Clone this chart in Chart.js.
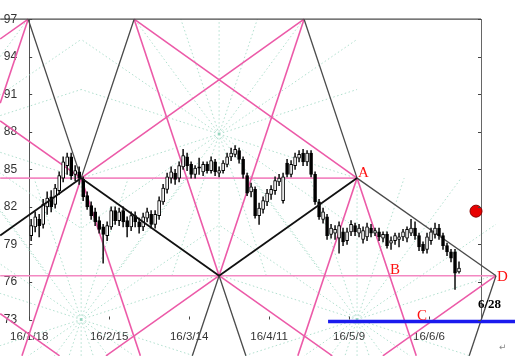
<!DOCTYPE html>
<html>
<head>
<meta charset="utf-8">
<title>Gann chart</title>
<script src="https://cdn.jsdelivr.net/npm/chart.js"></script>
<style>
    html, body { margin: 0; padding: 0; background: #fff; }
    #wrap { width: 515px; height: 356px; }
</style>
</head>
<body>
<div id="wrap"><canvas id="gann" width="515" height="356"></canvas></div>
<script>
// x = trading day counted from 16/1/18, y = price
const dateTicks  = [0, 20, 40, 60, 80, 100];
const dateLabels = ['16/1/18', '16/2/15', '16/3/14', '16/4/11', '16/5/9', '16/6/6'];
const priceTicks = [73, 76, 79, 82, 85, 88, 91, 94, 97];

const candleOpen = [
    79.7, 80.4, 81.0, 80.6, 82.0, 82.8, 82.2, 83.3, 84.3, 85.3,
    86.0, 84.6, 84.8, 84.2, 82.9, 82.1, 81.6, 80.9, 80.4, 79.7,
    80.4, 81.7, 80.9, 81.7, 80.9, 80.4, 81.3, 80.8, 80.4, 81.1,
    81.4, 80.6, 81.3, 82.4, 83.4, 84.3, 84.7, 84.3, 85.2, 86.0,
    85.4, 84.6, 85.2, 84.8, 85.4, 84.9, 85.6, 84.7, 84.9, 85.4,
    86.0, 86.2, 86.5, 85.8, 84.5, 83.2, 83.4, 81.3, 81.8, 82.4,
    83.0, 83.3, 84.0, 82.5, 85.5, 84.6, 85.3, 85.9, 86.3, 85.6,
    86.3, 84.6, 82.4, 81.0, 81.2, 79.8, 79.9, 79.5, 80.0, 79.3,
    80.0, 80.5, 79.9, 79.4, 79.6, 80.3, 79.9, 80.0, 79.5, 79.8,
    79.1, 79.3, 79.4, 79.6, 79.5, 79.9, 80.3, 79.7, 79.0, 78.6,
    79.3, 79.8, 80.3, 79.7, 78.9, 78.4, 78.4, 76.8
];
const candleHigh = [
    81.0, 81.6, 81.4, 82.6, 83.2, 83.3, 83.8, 84.8, 86.0, 86.3,
    86.3, 85.3, 85.2, 84.4, 83.2, 82.4, 81.9, 81.2, 80.6, 80.8,
    82.0, 82.0, 81.9, 82.0, 81.2, 81.6, 81.6, 81.1, 81.5, 81.9,
    81.7, 81.7, 82.8, 83.8, 84.7, 85.2, 85.0, 85.6, 86.6, 86.3,
    85.6, 85.3, 85.9, 85.6, 85.6, 86.0, 85.8, 85.2, 85.7, 86.3,
    86.7, 86.9, 86.7, 86.0, 84.7, 83.9, 83.6, 82.3, 82.8, 83.4,
    83.7, 84.4, 84.6, 84.7, 85.8, 85.7, 86.3, 86.5, 86.6, 86.5,
    86.5, 84.8, 82.6, 81.9, 81.4, 80.6, 80.5, 80.8, 80.3, 80.3,
    80.9, 80.7, 80.6, 80.4, 80.7, 80.6, 80.3, 80.3, 80.0, 80.0,
    79.6, 79.9, 79.9, 80.2, 80.4, 81.0, 80.8, 79.9, 79.2, 79.9,
    80.3, 80.7, 80.6, 79.9, 79.1, 78.6, 78.6, 77.6
];
const candleLow = [
    79.3, 80.0, 79.6, 80.3, 81.4, 81.6, 81.9, 83.0, 84.0, 84.6,
    84.2, 84.1, 83.8, 82.5, 81.8, 81.0, 80.5, 79.9, 77.5, 79.3,
    80.2, 80.6, 80.5, 80.4, 79.6, 80.1, 80.4, 79.9, 80.1, 80.8,
    80.3, 80.3, 81.0, 82.2, 83.1, 83.9, 83.8, 84.0, 85.0, 84.9,
    84.3, 84.3, 84.6, 84.5, 84.7, 84.7, 84.5, 84.4, 84.7, 85.2,
    85.7, 86.0, 85.5, 84.3, 82.9, 82.8, 81.1, 80.6, 81.5, 82.1,
    82.6, 83.0, 83.7, 82.3, 84.4, 84.4, 85.0, 85.6, 85.3, 85.3,
    84.4, 82.2, 81.0, 80.7, 79.4, 79.5, 79.4, 78.3, 78.9, 79.0,
    79.7, 79.7, 79.6, 79.1, 79.3, 79.6, 79.7, 79.3, 79.2, 78.7,
    78.6, 79.0, 78.8, 79.3, 79.2, 79.7, 79.4, 78.5, 78.3, 78.3,
    79.0, 79.5, 79.4, 78.6, 78.1, 77.6, 75.4, 76.7
];
const candleClose = [
    80.5, 81.2, 80.5, 82.2, 82.7, 82.0, 83.5, 84.5, 85.6, 86.0,
    84.5, 84.9, 84.3, 82.8, 82.0, 81.3, 80.8, 80.2, 79.8, 80.5,
    81.7, 80.9, 81.6, 80.8, 80.4, 81.3, 80.8, 80.4, 81.2, 81.6,
    80.6, 81.4, 82.5, 83.5, 84.4, 84.8, 84.2, 85.3, 86.1, 85.3,
    84.6, 85.1, 85.1, 85.4, 84.9, 85.7, 84.8, 84.9, 85.5, 86.0,
    86.3, 86.6, 85.8, 84.6, 83.1, 83.6, 81.3, 81.9, 82.5, 83.1,
    83.4, 84.1, 84.3, 84.4, 84.6, 85.4, 86.0, 86.2, 85.6, 86.3,
    84.6, 82.4, 81.2, 81.6, 79.7, 80.3, 80.2, 80.5, 79.2, 80.0,
    80.6, 80.0, 80.3, 80.1, 80.4, 79.9, 80.1, 79.6, 79.8, 78.9,
    79.3, 79.7, 79.6, 80.0, 80.2, 80.3, 79.7, 78.8, 78.5, 79.6,
    80.0, 80.3, 79.7, 78.9, 78.4, 77.9, 76.7, 77.1
];

// drawn lines as [x1, y1, x2, y2] in (day, price)
const blackLines = [
    [-7.25, 79.72, 13, 84.3],
    [13, 84.3, 47.5, 76.5],
    [47.5, 76.5, 82, 84.3]
];
const darkLines = [
    [82, 84.3, 116.75, 76.5],
    [-7.25, 97, 113, 97],
    [-0.25, 97, 13, 84.3],
    [26.25, 97, 13, 84.3],
    [68.75, 97, 82, 84.3],
    [47.5, 76.5, 40.8, 70.1],
    [47.5, 76.5, 54.2, 70.1],
    [116.75, 76.5, 110.05, 70.1]
];
const pinkLines = [
    [-0.25, 97, -7.25, 90.29],
    [-0.25, 97, -7.25, 95.42],
    [13, 84.3, -1.81, 70.1],
    [13, 84.3, 27.81, 70.1],
    [26.25, 97, 82, 84.3],
    [26.25, 97, 47.5, 76.5],
    [47.5, 76.5, 68.75, 97],
    [68.75, 97, 13, 84.3],
    [-7.25, 88.88, 13, 84.3],
    [82, 84.3, 67.19, 70.1],
    [82, 84.3, 96.81, 70.1],
    [47.5, 76.5, 75.8, 70.1],
    [47.5, 76.5, 19.2, 70.1],
    [116.75, 76.5, 88.45, 70.1],
    [-7.25, 73.46, 7.6, 70.1]
];
const levelLines = [
    [-7.25, 84.3, 82, 84.3],
    [-7.25, 76.5, 116.75, 76.5]
];
const blueLine = [74.75, 72.84, 121.5, 72.84];
const redDot = [111.75, 81.66];

// dotted fans: centre, bounding box [xmin, xmax, ymin, ymax], slopes in price per day
const fanCentres = [[13, 73], [47.5, 87.83], [82, 73], [-21.5, 87.83]];
const fanBoxes = [
    [-7.25, 47.5, 70.1, 84.3],
    [13, 82, 76.5, 97],
    [47.5, 116.75, 70.1, 84.3],
    [-21.5, 13, 76.5, 97]
];
const fanSlopes = [0.103, 0.219, 0.434, 0.959];

const marks = [
    {text: 'A', x: 82.25, y: 84.4, color: '#ff1010', font: '15px "Liberation Serif"'},
    {text: 'B', x: 90.25, y: 76.6, color: '#ff1010', font: '15px "Liberation Serif"'},
    {text: 'C', x: 97, y: 72.93, color: '#ff1010', font: '15px "Liberation Serif"'},
    {text: 'D', x: 117, y: 76.1, color: '#ff1010', font: '15px "Liberation Serif"'},
    {text: '6/28', x: 112.25, y: 73.95, color: '#000', font: 'bold 13px "Liberation Serif"'},
    {text: '\u21b5', x: 117.5, y: 70.55, color: '#888', font: '9px "DejaVu Sans"'}
];

// ---- build datasets ----
function segments(list, color, width, order, dash) {
    return list.map(s => ({
        type: 'line',
        data: [{x: s[0], y: s[1]}, {x: s[2], y: s[3]}],
        borderColor: color,
        borderWidth: width,
        borderDash: dash || [],
        pointRadius: 0,
        fill: false,
        clip: false,
        order: order
    }));
}

function fanRays() {
    const rays = [];
    fanCentres.forEach((c, k) => {
        const [xmin, xmax, ymin, ymax] = fanBoxes[k];
        rays.push([c[0], ymin, c[0], ymax]);
        fanSlopes.forEach(m => {
            [-1, 1].forEach(sx => {
                [-1, 1].forEach(sy => {
                    const tx = sx > 0 ? xmax - c[0] : c[0] - xmin;
                    const ty = sy > 0 ? (ymax - c[1]) / m : (c[1] - ymin) / m;
                    const t = Math.min(tx, ty);
                    if (t > 0) rays.push([c[0], c[1], c[0] + sx * t, c[1] + sy * m * t]);
                });
            });
        });
    });
    return rays;
}

const days = candleOpen.map((v, i) => i + 0.5);
const isUp = candleOpen.map((o, i) => candleClose[i] >= o);

const datasets = [
    ...segments(fanRays(), 'rgba(150, 212, 190, 0.75)', 1, 20, [1.5, 2.5]),
    ...segments(levelLines, '#f388c2', 1.6, 15),
    ...segments(pinkLines, '#ec5aa8', 1.6, 14),
    ...segments(darkLines, '#4a4a4a', 1.3, 13),
    {
        type: 'bar',
        data: days.map((d, i) => ({x: d, y: [candleLow[i], candleHigh[i]]})),
        backgroundColor: '#222',
        borderWidth: 0,
        barThickness: 1,
        grouped: false,
        order: 10
    },
    {
        type: 'bar',
        data: days.map((d, i) => ({x: d, y: [candleOpen[i], candleClose[i]]})),
        backgroundColor: isUp.map(u => u ? '#ffffff' : '#000000'),
        borderColor: '#000',
        borderWidth: 1,
        borderSkipped: false,
        barThickness: 3,
        grouped: false,
        order: 9
    },
    ...segments(blackLines, '#111', 1.8, 5),
    ...segments([blueLine], '#1a1aee', 3.5, 4),
    {
        type: 'line',
        data: [{x: redDot[0], y: redDot[1]}],
        showLine: false,
        pointRadius: 6,
        pointBackgroundColor: '#e80000',
        pointBorderColor: '#8a0000',
        pointBorderWidth: 1,
        clip: false,
        order: 3
    }
];

// inward tick marks and the letter marks
const overlay = {
    id: 'overlay',
    afterDraw(chart) {
        const {ctx, chartArea, scales: {x, y}} = chart;
        ctx.save();
        ctx.strokeStyle = '#444';
        ctx.lineWidth = 1;
        ctx.beginPath();
        y.ticks.forEach(t => {
            const py = Math.round(y.getPixelForValue(t.value)) + 0.5;
            ctx.moveTo(chartArea.left, py);
            ctx.lineTo(chartArea.left + 3, py);
            ctx.moveTo(chartArea.right - 3, py);
            ctx.lineTo(chartArea.right, py);
        });
        x.ticks.forEach(t => {
            const px = Math.round(x.getPixelForValue(t.value)) + 0.5;
            ctx.moveTo(px, chartArea.bottom);
            ctx.lineTo(px, chartArea.bottom - 3);
        });
        ctx.stroke();

        ctx.textAlign = 'left';
        ctx.textBaseline = 'alphabetic';
        marks.forEach(m => {
            ctx.font = m.font;
            ctx.fillStyle = m.color;
            ctx.fillText(m.text, x.getPixelForValue(m.x), y.getPixelForValue(m.y));
        });
        ctx.restore();
    }
};

Chart.defaults.font.family = '"Liberation Sans", Arial, sans-serif';

new Chart(document.getElementById('gann'), {
    type: 'bar',
    data: {datasets},
    options: {
        responsive: false,
        devicePixelRatio: 1,
        animation: false,
        layout: {padding: {left: 0, top: 12, right: 34, bottom: 0}},
        plugins: {
            legend: {display: false},
            tooltip: {enabled: false}
        },
        scales: {
            x: {
                type: 'linear',
                min: 0,
                max: 113,
                offset: false,
                grid: {display: false, drawTicks: false},
                border: {display: false},
                afterBuildTicks: s => { s.ticks = dateTicks.map(v => ({value: v})); },
                afterFit: s => { s.height = 36.5; },
                ticks: {
                    autoSkip: false,
                    maxRotation: 0,
                    padding: 10,
                    color: '#333',
                    font: {size: 11.5},
                    callback: v => dateLabels[dateTicks.indexOf(v)]
                }
            },
            y: {
                position: 'left',
                min: 73,
                max: 97,
                afterBuildTicks: s => { s.ticks = priceTicks.map(v => ({value: v})); },
                afterFit: s => { s.width = 29; },
                grid: {display: true, drawOnChartArea: false, drawTicks: false},
                border: {display: true, color: '#555', width: 1},
                ticks: {padding: 12, color: '#333', font: {size: 12}}
            },
            y2: {
                position: 'right',
                min: 73,
                max: 97,
                afterFit: s => { s.width = 0; },
                grid: {display: true, drawOnChartArea: false, drawTicks: false},
                border: {display: true, color: '#666', width: 1},
                ticks: {display: false}
            }
        }
    },
    plugins: [overlay]
});
</script>
</body>
</html>
